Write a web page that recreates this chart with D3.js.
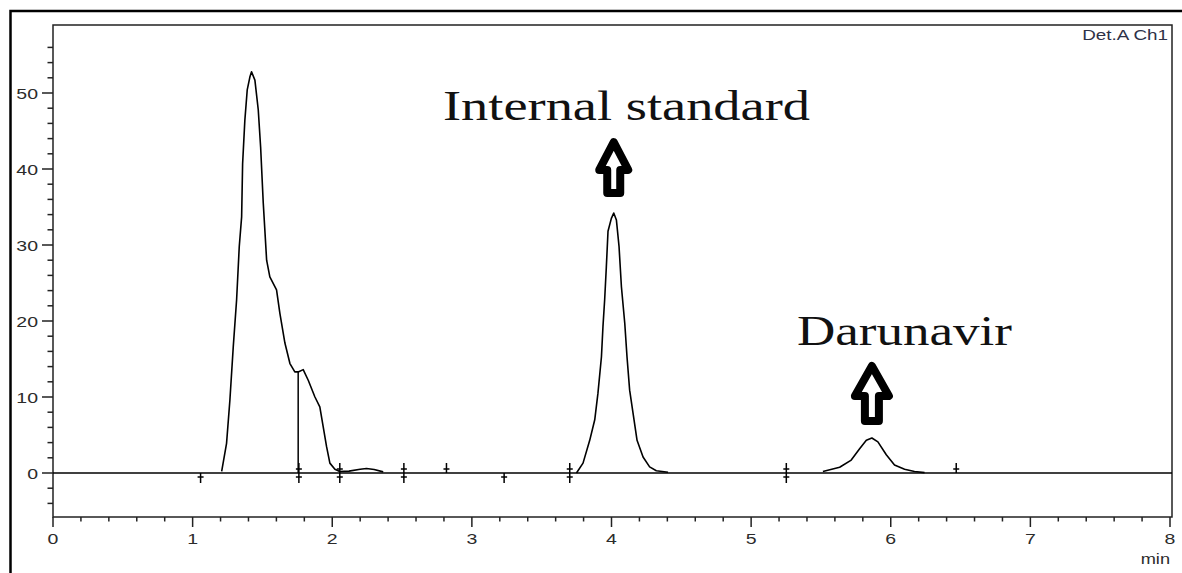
<!DOCTYPE html>
<html>
<head>
<meta charset="utf-8">
<script src="https://cdn.jsdelivr.net/npm/d3@7"></script>
<style>
  body { margin: 0; background: #fff; }
  svg { display: block; }
</style>
</head>
<body>
<div id="chrom"></div>
<script>
// chromatogram trace (min, mAU); null splits the drawn segments
const traceTime = [
  1.208, 1.243, 1.267, 1.291, 1.315, 1.334, 1.351, 1.358, 1.374, 1.391, 1.41, 1.422,
  1.446, 1.47, 1.487, 1.506, 1.53, 1.553, 1.601, 1.625, 1.661, 1.697, 1.732, 1.756,
  1.792, 1.828, 1.876, 1.911, 1.935, 1.959, 1.983, 2.019, 2.054, 2.12, 2.2, 2.245,
  2.3, 2.365, null,
  3.749, 3.796, 3.844, 3.88, 3.903, 3.928, 3.939, 3.951, 3.963, 3.975, 3.999, 4.016,
  4.035, 4.054, 4.071, 4.095, 4.111, 4.13, 4.154, 4.183, 4.226, 4.273, 4.321, 4.405, null,
  5.514, 5.634, 5.717, 5.777, 5.825, 5.865, 5.908, 5.968, 6.027, 6.099, 6.17, 6.242
];
const traceSignal = [
  0.2, 3.9, 9.6, 16.6, 22.8, 29.8, 33.7, 40.7, 46.4, 50.4, 52.1, 52.8,
  51.7, 47.8, 42.9, 35.5, 28.0, 25.8, 24.1, 21.0, 17.1, 14.4, 13.3, 13.3,
  13.6, 12.2, 10.0, 8.7, 6.1, 3.5, 1.3, 0.5, 0.2, 0.25, 0.5, 0.6,
  0.45, 0.15, null,
  0.0, 1.3, 4.3, 7.0, 10.5, 15.3, 19.3, 22.8, 27.1, 31.8, 33.5, 34.2,
  33.3, 29.8, 24.5, 19.7, 15.3, 10.9, 7.9, 4.3, 2.1, 0.8, 0.3, 0.1, null,
  0.2, 0.75, 1.7, 3.2, 4.3, 4.6, 4.1, 2.4, 1.05, 0.5, 0.2, 0.05
];

// integration event marks on the baseline
const markTimes = [1.057, 1.761, 2.054, 2.513, 2.818, 3.231, 3.701, 5.252, 6.469];
const markDirs = ["down", "both", "both", "both", "up", "down", "both", "both", "up"];

// peak split drop line
const dropTime = 1.756;
const dropLevel = 13.3;

// axis ticks
const xTickLabels = [0, 1, 2, 3, 4, 5, 6, 7, 8];
const yTickLabels = [0, 10, 20, 30, 40, 50];

// annotated peaks
const peakNames = ["Internal standard", "Darunavir"];
const peakTimes = [4.016, 5.865];
const peakHeights = [34.2, 4.6];

const W = 1182, H = 573;
const plotL = 53, plotR = 1172, plotT = 25, plotB = 517;
const stretch = 1.3; // the source image is stretched sideways

const svg = d3.select("#chrom").append("svg")
  .attr("width", W)
  .attr("height", H);

const x = d3.scaleLinear().domain([0, 8]).range([plotL, 1170]);
const y = d3.scaleLinear().domain([0, 50]).range([473, 93]);

// outer frame (top and left edges only)
svg.append("path")
  .attr("d", `M10.5,${H} V11 H${W}`)
  .attr("fill", "none")
  .attr("stroke", "#000")
  .attr("stroke-width", 2.5);

// plot frame
svg.append("rect")
  .attr("x", plotL).attr("y", plotT)
  .attr("width", plotR - plotL).attr("height", plotB - plotT)
  .attr("fill", "none")
  .attr("stroke", "#222")
  .attr("stroke-width", 1.5);

// y ticks
const yMinor = d3.range(-4, 57, 2);
svg.append("g").selectAll("line")
  .data(yMinor)
  .enter().append("line")
  .attr("x1", d => d % 10 === 0 ? plotL - 11 : plotL - 5.5)
  .attr("x2", plotL)
  .attr("y1", d => y(d)).attr("y2", d => y(d))
  .attr("stroke", "#222")
  .attr("stroke-width", 1.5);

svg.append("g").selectAll("text")
  .data(yTickLabels)
  .enter().append("text")
  .attr("transform", d => `translate(38,${y(d) + 5.5}) scale(${stretch},1)`)
  .attr("text-anchor", "end")
  .attr("font-family", "Liberation Sans, Arial, sans-serif")
  .attr("font-size", 15)
  .attr("fill", "#2b2b2b")
  .text(d => d);

// x ticks
const xMinor = d3.range(0, 40.5, 1).map(d => d / 5);
svg.append("g").selectAll("line")
  .data(xMinor)
  .enter().append("line")
  .attr("x1", d => x(d)).attr("x2", d => x(d))
  .attr("y1", plotB)
  .attr("y2", (d, i) => i % 5 === 0 ? plotB + 10 : plotB + 4.5)
  .attr("stroke", "#222")
  .attr("stroke-width", 1.5);

svg.append("g").selectAll("text")
  .data(xTickLabels)
  .enter().append("text")
  .attr("transform", d => `translate(${x(d)},544) scale(${stretch},1)`)
  .attr("text-anchor", "middle")
  .attr("font-family", "Liberation Sans, Arial, sans-serif")
  .attr("font-size", 15)
  .attr("fill", "#2b2b2b")
  .text(d => d);

svg.append("text")
  .attr("transform", `translate(1170,564) scale(${stretch},1)`)
  .attr("text-anchor", "end")
  .attr("font-family", "Liberation Sans, Arial, sans-serif")
  .attr("font-size", 14)
  .attr("fill", "#2b2b2b")
  .text("min");

svg.append("text")
  .attr("transform", `translate(1168,40) scale(${stretch},1)`)
  .attr("text-anchor", "end")
  .attr("font-family", "Liberation Sans, Arial, sans-serif")
  .attr("font-size", 14.5)
  .attr("fill", "#2d3148")
  .text("Det.A Ch1");

// baseline
svg.append("line")
  .attr("x1", plotL).attr("x2", plotR)
  .attr("y1", y(0)).attr("y2", y(0))
  .attr("stroke", "#000")
  .attr("stroke-width", 1.5);

// trace
const pts = traceTime.map((t, i) => [t, traceSignal[i]]);
const line = d3.line()
  .defined(d => d[0] !== null)
  .x(d => x(d[0]))
  .y(d => y(d[1]));

svg.append("path")
  .datum(pts)
  .attr("d", line)
  .attr("fill", "none")
  .attr("stroke", "#000")
  .attr("stroke-width", 1.6)
  .attr("stroke-linejoin", "round");

// drop line
svg.append("line")
  .attr("x1", x(dropTime)).attr("x2", x(dropTime))
  .attr("y1", y(0)).attr("y2", y(dropLevel))
  .attr("stroke", "#000")
  .attr("stroke-width", 1.5);

// event marks
const marks = svg.append("g")
  .attr("stroke", "#000")
  .attr("stroke-width", 1.5);

markTimes.forEach((t, i) => {
  const px = x(t), py = y(0);
  const dir = markDirs[i];
  if (dir === "up" || dir === "both") {
    marks.append("line").attr("x1", px).attr("x2", px).attr("y1", py).attr("y2", py - 10);
    marks.append("line").attr("x1", px - 3).attr("x2", px + 3).attr("y1", py - 4).attr("y2", py - 4);
  }
  if (dir === "down" || dir === "both") {
    marks.append("line").attr("x1", px).attr("x2", px).attr("y1", py).attr("y2", py + 10);
    marks.append("line").attr("x1", px - 3).attr("x2", px + 3).attr("y1", py + 4).attr("y2", py + 4);
  }
});

// block arrows over the labelled peaks
function arrowPath(cx, topY, w, h, shaftHalf, headFrac, sw) {
  const hw = w / 2 - sw / 2;
  const t0 = topY + sw / 2;
  const hb = topY + h * headFrac;
  const b = topY + h - sw / 2;
  return `M${cx},${t0} L${cx + hw},${hb} L${cx + shaftHalf},${hb} L${cx + shaftHalf},${b}` +
    ` L${cx - shaftHalf},${b} L${cx - shaftHalf},${hb} L${cx - hw},${hb} Z`;
}

const arrowSpecs = [
  { w: 37, h: 59, gap: 16, shaft: 6.5 },
  { w: 42, h: 63, gap: 13, shaft: 7 }
];
const labelX = [443, 797];
const labelW = [367, 215];
const labelBase = [119.5, 344.5];

peakNames.forEach((name, i) => {
  const s = arrowSpecs[i];
  const cx = x(peakTimes[i]);
  const topY = y(peakHeights[i]) - s.gap - s.h;
  svg.append("path")
    .attr("d", arrowPath(cx, topY, s.w, s.h, s.shaft, 0.54, 8))
    .attr("fill", "#fff")
    .attr("stroke", "#000")
    .attr("stroke-width", 8)
    .attr("stroke-linejoin", "round");

  svg.append("text")
    .attr("x", labelX[i])
    .attr("y", labelBase[i])
    .attr("font-family", "Liberation Serif, 'Times New Roman', serif")
    .attr("font-size", 42)
    .attr("fill", "#111")
    .attr("textLength", labelW[i])
    .attr("lengthAdjust", "spacingAndGlyphs")
    .text(name);
});
</script>
</body>
</html>
